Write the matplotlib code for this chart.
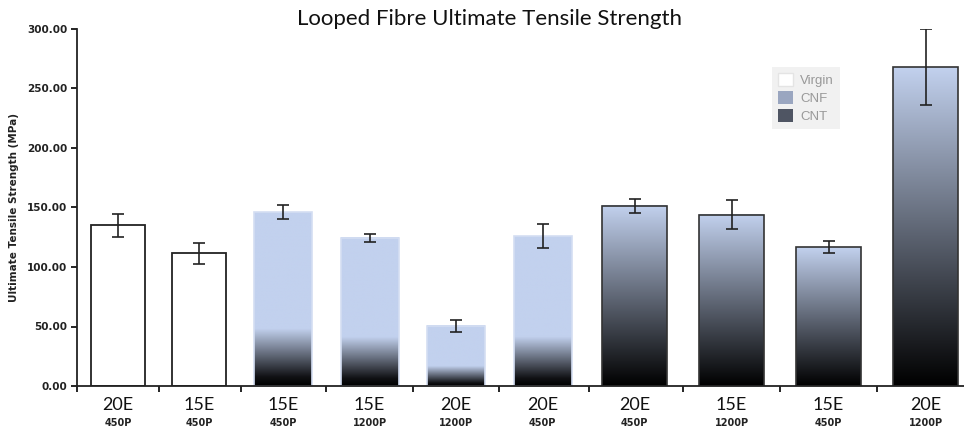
import numpy as np
import matplotlib.pyplot as plt
from matplotlib.patches import Patch
from matplotlib.colors import LinearSegmentedColormap

# data
samples  = ["20E", "15E", "15E", "15E", "20E", "20E", "20E", "15E", "15E", "20E"]
pellets  = ["450P", "450P", "450P", "1200P", "1200P", "450P", "450P", "1200P", "450P", "1200P"]
material = ["Virgin", "Virgin", "CNF", "CNF", "CNF", "CNF", "CNT", "CNT", "CNT", "CNT"]
uts      = [135.0, 111.5, 146.0, 124.5, 50.5, 126.0, 151.5, 144.0, 116.5, 268.0]
uts_err  = [9.5, 9.0, 6.0, 3.5, 5.0, 10.0, 6.0, 12.0, 5.0, 32.0]

blue = "#C2D1EE"
cnt_cmap = LinearSegmentedColormap.from_list("cnt", ["black", blue])
cnf_cmap = LinearSegmentedColormap.from_list("cnf", [(0, "black"), (0.05, "#101114"),
                                                     (0.33, blue), (1.0, blue)])

# layout: each material group has its own pitch / bar width (pixel-ish units)
pitch = {"Virgin": 81, "CNF": 86.5, "CNT": 97}
width = {"Virgin": 54, "CNF": 58, "CNT": 65}
group_gap = {"CNF": 84, "CNT": 92}
centers = []
for i, m in enumerate(material):
    if i == 0:
        centers.append(41.0)
    elif m != material[i - 1]:
        centers.append(centers[-1] + group_gap[m])
    else:
        centers.append(centers[-1] + pitch[m])

fig = plt.figure(figsize=(9.64, 4.29), dpi=100)
ax = fig.add_axes([77 / 964, 1 - 386 / 429, 887 / 964, 357 / 429])

grad = np.linspace(0, 1, 256).reshape(-1, 1)
for x, v, e, m in zip(centers, uts, uts_err, material):
    w = width[m]
    if m == "Virgin":
        ax.bar(x, v, w, color="white", edgecolor="#222222", linewidth=1.3, zorder=2)
    else:
        cmap = cnt_cmap if m == "CNT" else cnf_cmap
        ec = "#333333" if m == "CNT" else "#d4def2"
        ax.imshow(grad, cmap=cmap, origin="lower", aspect="auto",
                  extent=[x - w / 2, x + w / 2, 0, v], zorder=1, interpolation="bilinear")
        ax.bar(x, v, w, color="none", edgecolor=ec, linewidth=1.2, zorder=2)
    ax.errorbar(x, v, yerr=e, fmt="none", ecolor="#222222", elinewidth=1.2,
                capsize=4, capthick=1.2, zorder=3)

ax.set_xlim(0, 887)
ax.set_ylim(0, 300)
ax.set_yticks(np.arange(0, 301, 50))
ax.set_yticklabels([f"{t:.2f}" for t in np.arange(0, 301, 50)],
                   fontsize=7.5, fontweight="bold", color="#222222")
bounds = [0] + [(a + b) / 2 for a, b in zip(centers[:-1], centers[1:])]
ax.set_xticks(bounds)
ax.set_xticklabels([])
ax.tick_params(axis="x", length=4, width=1.2, direction="out")
ax.tick_params(axis="y", length=4, width=1.2, direction="out", pad=3)
for s in ["top", "right"]:
    ax.spines[s].set_visible(False)
for s in ["left", "bottom"]:
    ax.spines[s].set_linewidth(1.3)
    ax.spines[s].set_color("#222222")

for x, s, p in zip(centers, samples, pellets):
    ax.text(x, -9, s, ha="center", va="top", fontsize=13, family="Lato", color="#111111")
    ax.text(x, -27, p, ha="center", va="top", fontsize=7, fontweight="bold",
            family="DejaVu Sans", color="#222222")

ax.set_ylabel("Ultimate Tensile Strength (MPa)", fontsize=7.5, fontweight="bold",
              color="#222222", labelpad=6)
fig.text(0.508, 0.955, "Looped Fibre Ultimate Tensile Strength", ha="center", va="center",
         fontsize=16, family="Lato", color="#111111")

handles = [Patch(facecolor="white", edgecolor="#e4e4e4", label="Virgin"),
           Patch(facecolor="#9aa6c0", edgecolor="none", label="CNF"),
           Patch(facecolor="#4f5563", edgecolor="none", label="CNT")]
leg = fig.legend(handles=handles, loc="upper left", bbox_to_anchor=(765 / 964, 1 - 60 / 429),
                 frameon=True, fancybox=False, handlelength=1.2, handleheight=1.2,
                 handletextpad=0.5, labelspacing=0.3, borderpad=0.45,
                 prop={"family": "Liberation Sans", "size": 9.5})
leg.get_frame().set_facecolor("#eeeeee")
leg.get_frame().set_edgecolor("none")
for t in leg.get_texts():
    t.set_color("#999999")

fig.savefig("out.png", dpi=100)
